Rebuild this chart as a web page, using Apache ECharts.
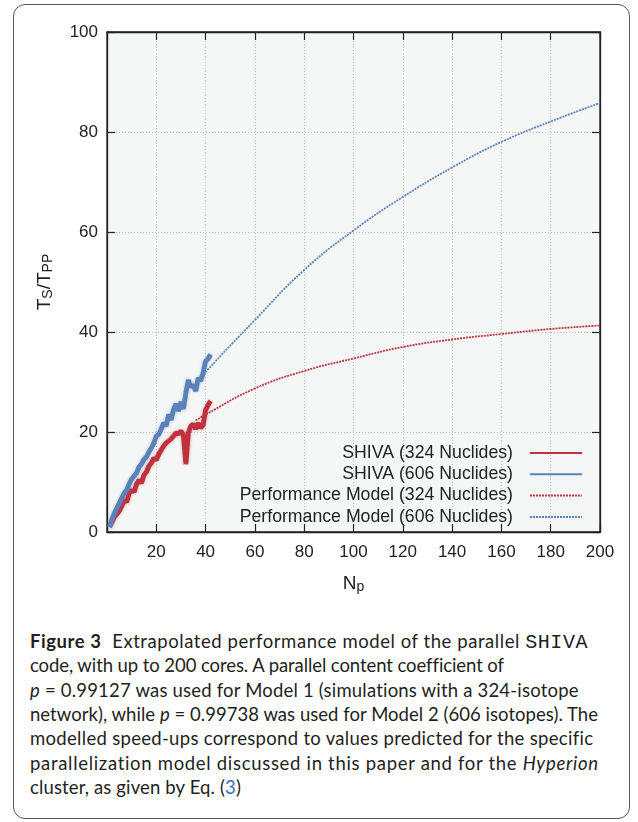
<!DOCTYPE html>
<html>
<head>
<meta charset="utf-8">
<script src="https://cdn.jsdelivr.net/npm/echarts@6/dist/echarts.min.js"></script>
<style>
  html, body { margin: 0; padding: 0; background: #fff; }
  body { width: 638px; height: 822px; position: relative; overflow: hidden; }
  #frame {
    position: absolute; left: 13px; top: 4px; width: 617px; height: 815px;
    border: 1.3px solid #555; border-radius: 12px; box-sizing: border-box;
  }
  #chart { position: absolute; left: 0; top: 0; width: 638px; height: 610px; }
  .cap {
    position: absolute; left: 30px; height: 24px;
    font-family: Lato, "Open Sans", sans-serif; font-size: 18.5px; line-height: 24px;
    color: #231f20; white-space: nowrap;
  }
  .cap b { font-weight: 700; }
  .cap .mono { font-family: "Liberation Mono", "DejaVu Sans Mono", monospace; font-size: 20px; }
  .cap .ref { color: #3a6fc4; }
</style>
</head>
<body>
<div id="frame"></div>
<div id="chart"></div>
<div id="caption"></div>
<script>
// number of cores used in the measured runs
const cores = [1, 2, 3, 4, 5, 6, 7, 8, 9, 10, 11, 12, 13, 14, 15, 16, 17, 18, 19, 20, 21,
  22, 23, 24, 25, 26, 27, 28, 29, 30, 31, 32, 33, 34, 35, 36, 37, 38, 39, 40, 41, 42];

// measured speed-up, 324 nuclides
const shiva324 = [1, 2.0, 3.0, 3.6, 4.2, 5.2, 6.4, 6.0, 7.8, 8.4, 8.0, 9.6, 10.4, 9.8, 11.4,
  12.0, 13.2, 13.8, 14.8, 14.4, 15.6, 16.4, 17.2, 17.8, 18.2, 18.6, 19.2, 19.8, 19.6, 20.2,
  19.4, 13.6, 19.8, 21.2, 21.6, 20.6, 21.8, 20.8, 21.4, 24.4, 25.4, 26.2];

// measured speed-up, 606 nuclides
const shiva606 = [1, 2.5, 3.8, 4.8, 5.8, 6.8, 7.8, 8.4, 9.6, 10.6, 11.2, 11.8, 13.0, 13.6,
  14.5, 15.0, 16.0, 16.8, 17.8, 19.2, 19.5, 20.6, 21.8, 21.2, 23.5, 22.4, 24.5, 25.6, 24.2,
  26.0, 24.6, 27.8, 30.4, 29.0, 29.4, 28.2, 30.8, 30.2, 31.8, 34.2, 34.6, 35.5];

// performance model curves
const modelCores = [36, 40, 60, 80, 100, 120, 140, 160, 180, 200];
const model324 = [22.3, 23.5, 28.7, 32.2, 34.7, 37.0, 38.5, 39.6, 40.6, 41.3];
const model606 = [29.6, 32.0, 42.4, 52.4, 60.3, 67.0, 72.9, 78.0, 82.1, 85.8];

const seriesNames = ['SHIVA (324 Nuclides)', 'SHIVA (606 Nuclides)',
  'Performance Model (324 Nuclides)', 'Performance Model (606 Nuclides)'];

// caption lines and the right edge each line reaches in the figure
const captionLines = [
  '<b>Figure 3</b>&nbsp; Extrapolated performance model of the parallel <span class="mono">SHIVA</span>',
  'code, with up to 200 cores. A parallel content coefficient of',
  '<i>p</i> = 0.99127 was used for Model 1 (simulations with a 324-isotope',
  'network), while <i>p</i> = 0.99738 was used for Model 2 (606 isotopes). The',
  'modelled speed-ups correspond to values predicted for the specific',
  'parallelization model discussed in this paper and for the <i>Hyperion</i>',
  'cluster, as given by Eq. (<span class="ref">3</span>)'
];
const captionEnds = [588, 503, 579, 598, 593, 599, 241];

const RED = '#c0313f';
const BLUE = '#5b82b8';
const FONT = '"Liberation Sans", Arial, sans-serif';

function pairs(xs, ys) {
  return xs.map((x, i) => [x, ys[i]]);
}

// caption: one absolutely placed line each, letter spacing fitted to the figure
const cap = document.getElementById('caption');
captionLines.forEach((html, i) => {
  const d = document.createElement('div');
  d.className = 'cap';
  d.style.top = (629 + i * 24.33) + 'px';
  d.innerHTML = html;
  cap.appendChild(d);
  const natural = d.getBoundingClientRect().width;
  const chars = d.textContent.length;
  const want = captionEnds[i] - 30;
  d.style.letterSpacing = ((want - natural) / chars) + 'px';
});

const chart = echarts.init(document.getElementById('chart'), null, { renderer: 'canvas' });

function axisLine() { return { show: true, onZero: false, lineStyle: { color: '#222', width: 1.3 } }; }
function tickIn() { return { show: true, inside: true, length: 8, lineStyle: { color: '#222', width: 1.2 } }; }
function grid() { return { show: true, lineStyle: { color: '#bbb', type: [1, 2], width: 1 } }; }

const nameRich = {
  n: { fontFamily: FONT, fontSize: 19, color: '#222', verticalAlign: 'top', lineHeight: 20 },
  s: { fontFamily: FONT, fontSize: 14, color: '#222', verticalAlign: 'bottom', lineHeight: 14 }
};

const option = {
  animation: false,
  grid: {
    left: 107, right: 38, top: 32, height: 500,
    show: true, backgroundColor: '#f5f7f6', borderColor: '#222', borderWidth: 1.3
  },
  legend: {
    right: 50, top: 439, orient: 'vertical', align: 'right',
    itemWidth: 52, itemHeight: 14, itemGap: 3.3,
    itemStyle: { opacity: 0 },
    textStyle: { fontFamily: FONT, fontSize: 17.7, lineHeight: 17, color: '#222', padding: [0, 12, 0, 0] },
    data: seriesNames
  },
  xAxis: [{
    type: 'value', min: 0, max: 200, interval: 20,
    name: '{n|N}{s|p}', nameLocation: 'middle', nameGap: 42,
    nameTextStyle: { rich: nameRich },
    axisLine: axisLine(), axisTick: tickIn(),
    axisLabel: {
      fontFamily: FONT, fontSize: 17, color: '#222', margin: 12,
      formatter: v => (v === 0 ? '' : String(v))
    },
    splitLine: grid()
  }, {
    type: 'value', min: 0, max: 200, interval: 20, position: 'top',
    axisLine: axisLine(), axisTick: tickIn(), axisLabel: { show: false }, splitLine: { show: false }
  }],
  yAxis: [{
    type: 'value', min: 0, max: 100, interval: 20, position: 'left',
    name: '{n|T}{s|S}{n|/T}{s|PP}', nameLocation: 'middle', nameGap: 52, nameRotate: 90,
    nameTextStyle: { rich: nameRich },
    axisLine: axisLine(), axisTick: tickIn(),
    axisLabel: { fontFamily: FONT, fontSize: 17, color: '#222', margin: 9 },
    splitLine: grid()
  }, {
    type: 'value', min: 0, max: 100, interval: 20, position: 'right',
    axisLine: axisLine(), axisTick: tickIn(), axisLabel: { show: false }, splitLine: { show: false }
  }],
  series: [
    {
      name: seriesNames[0], type: 'line', symbol: 'none',
      data: pairs(cores, shiva324), color: RED,
      lineStyle: { width: 4.8, color: RED, shadowBlur: 3, shadowColor: 'rgba(192,49,63,0.5)' }
    },
    {
      name: seriesNames[1], type: 'line', symbol: 'none',
      data: pairs(cores, shiva606), color: BLUE,
      lineStyle: { width: 4.8, color: BLUE, shadowBlur: 3, shadowColor: 'rgba(91,130,184,0.5)' }
    },
    {
      name: seriesNames[2], type: 'line', symbol: 'none', smooth: 0.5,
      data: pairs(modelCores, model324), color: RED,
      lineStyle: { width: 1.8, color: RED, type: [2, 1] }
    },
    {
      name: seriesNames[3], type: 'line', symbol: 'none', smooth: 0.5,
      data: pairs(modelCores, model606), color: BLUE,
      lineStyle: { width: 1.8, color: BLUE, type: [2, 1] }
    }
  ]
};

chart.setOption(option);
</script>
</body>
</html>
